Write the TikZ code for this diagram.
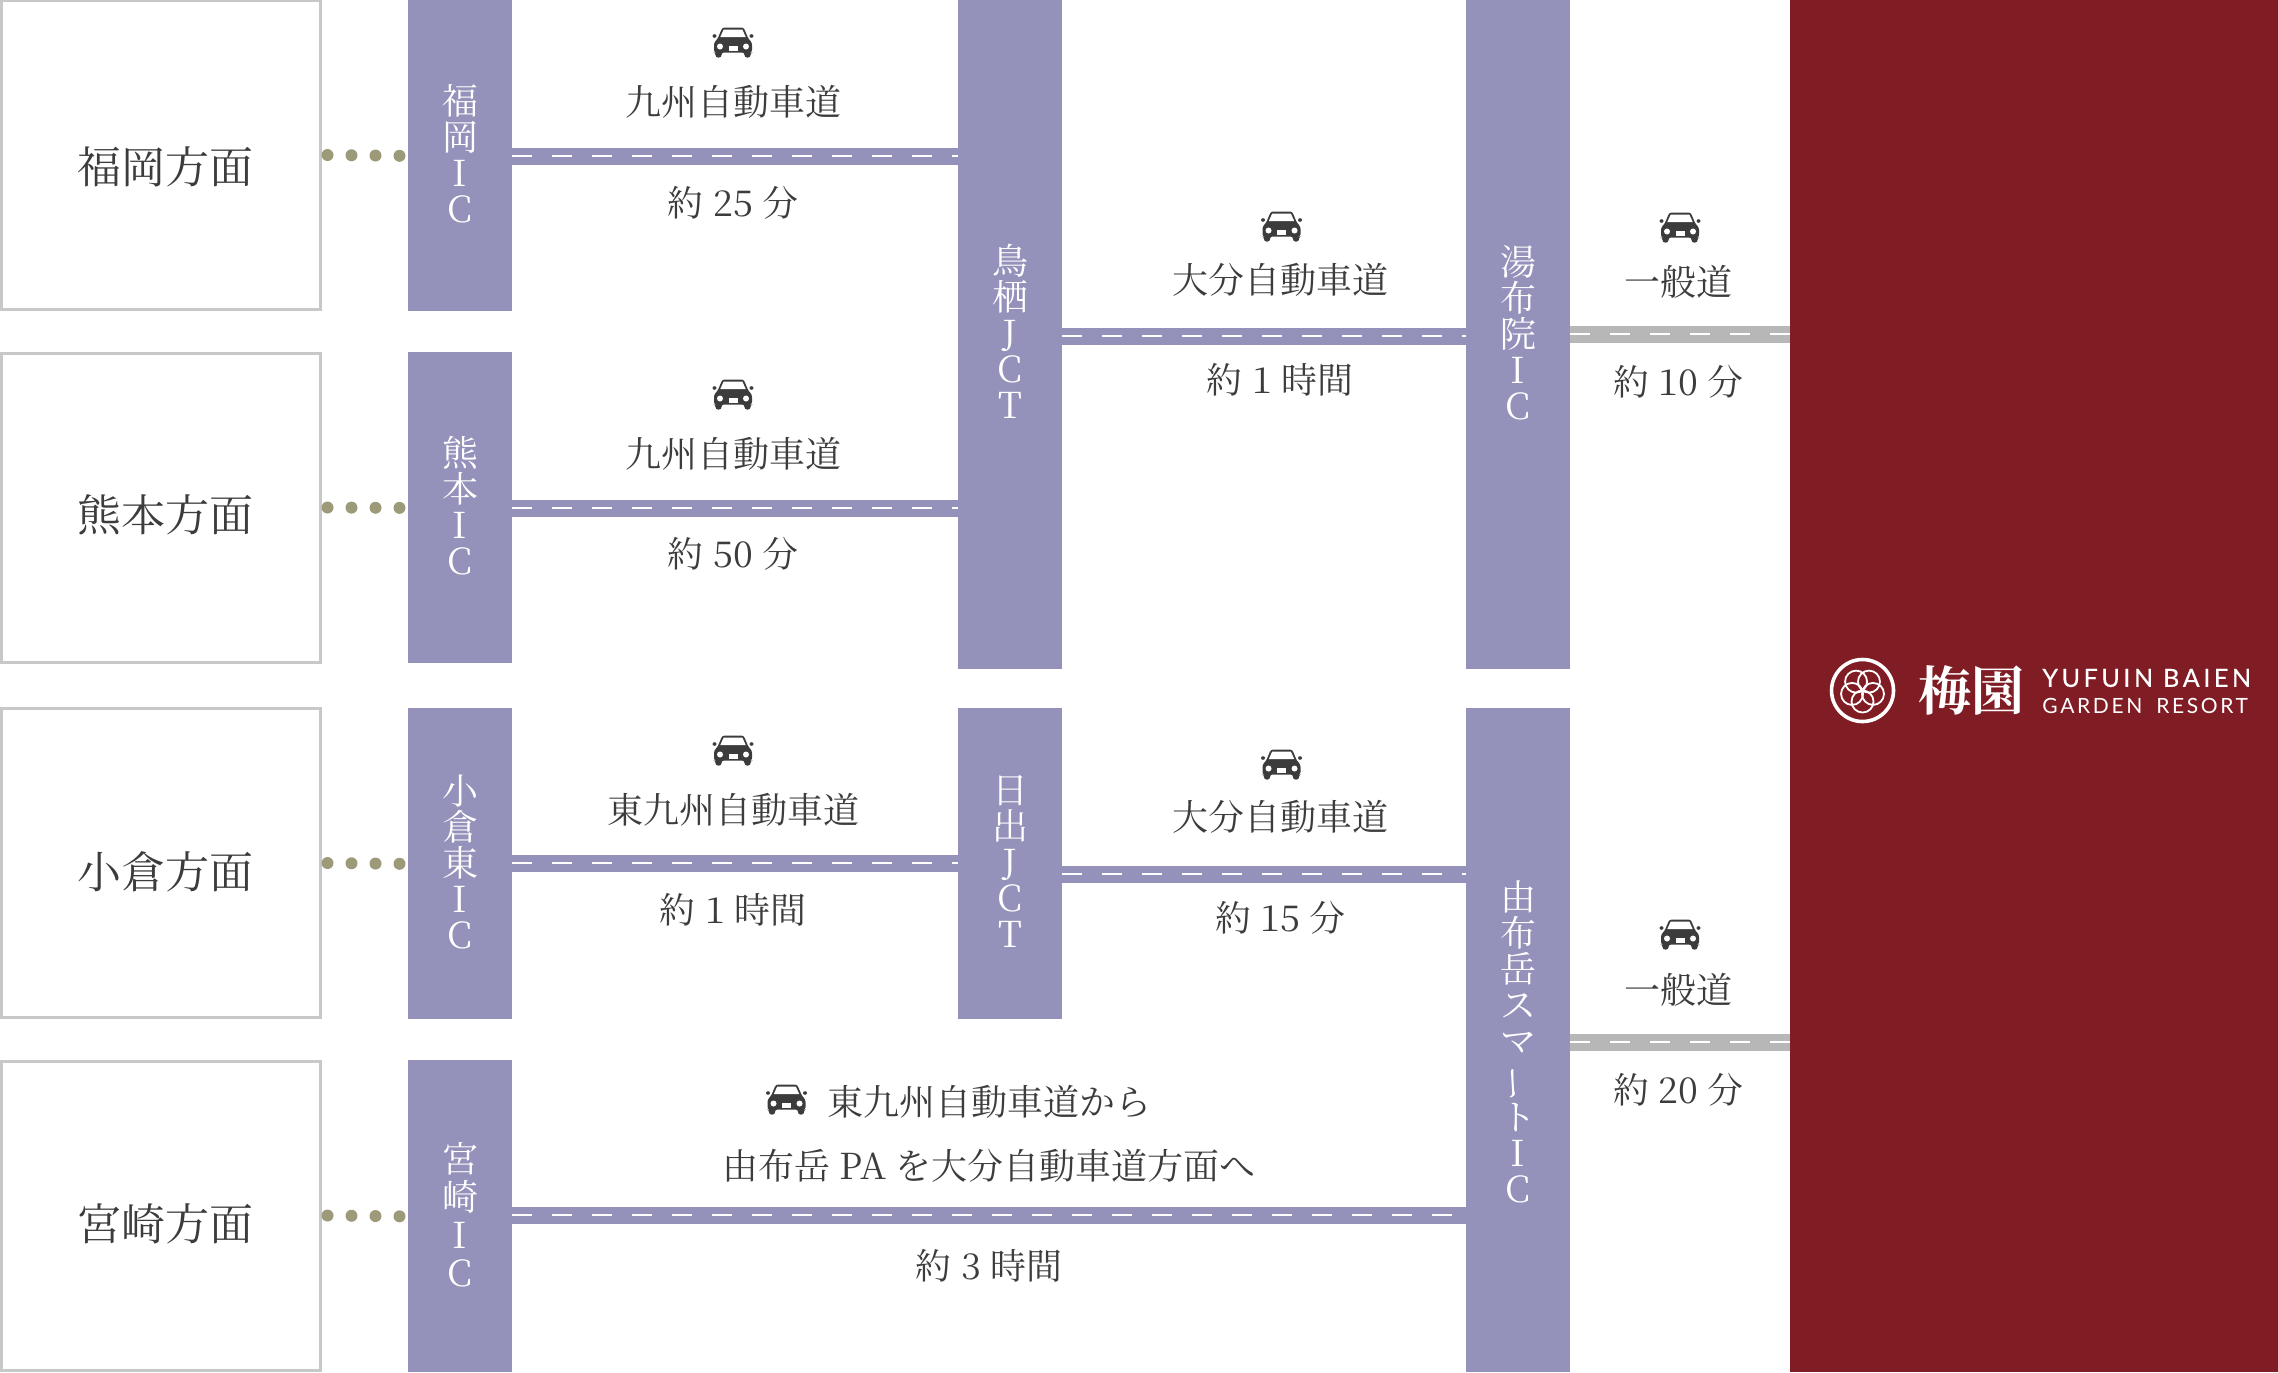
\documentclass[tikz,border=0pt]{standalone}
\usepackage{fontspec}
\setmainfont{Noto Serif CJK JP}
\newfontfamily\logofont{Lato}
\definecolor{lav}{HTML}{9492BA}
\definecolor{wine}{HTML}{7F1C24}
\definecolor{ink}{HTML}{3C3C3C}
\definecolor{olive}{HTML}{9C9A78}
\definecolor{edgegrey}{HTML}{C8C8C8}
\definecolor{roadgrey}{HTML}{B7B7B7}
\newcommand{\vbar}{\rotatebox[origin=c]{90}{ー}}
\tikzset{
  place/.style={draw=edgegrey,line width=1.5pt,fill=white,minimum width=159.5pt,minimum height=154.5pt,inner sep=0pt},
  placetext/.style={text=ink,inner sep=0pt,font=\fontsize{22}{22}\selectfont},
  column/.style={fill=lav,minimum width=52pt,inner sep=0pt,anchor=north west},
  vlabel/.style={text=white,align=center,inner sep=0pt,font=\fontsize{18}{18}\selectfont},
  tx/.style={text=ink,inner sep=0pt,font=\fontsize{18}{18}\selectfont},
  road/.style={draw=#1,line width=8.5pt,postaction={draw=white,line width=1.1pt,dash pattern=on 10pt off 10pt}},
  dots/.style={draw=olive,line width=6pt,line cap=round,dash pattern=on 0pt off 12pt},
  car/.pic={
    \fill[ink] (-18.5,-6.5) ellipse (2 and 1.8) (18.5,-6.5) ellipse (2 and 1.8);
    \fill[ink,rounded corners=1.2pt] (-10.7,-15) -- (10.7,-15) -- (15.5,-3.5) -- (19,0) -- (19,10) -- (17.5,10) -- (17.5,15) -- (11.5,15) -- (11.5,10) -- (-11.5,10) -- (-11.5,15) -- (-17.5,15) -- (-17.5,10) -- (-19,10) -- (-19,0) -- (-15.5,-3.5) -- cycle;
    \fill[white] (-9.3,-13) -- (9.3,-13) -- (12.7,-5.5) -- (-12.7,-5.5) -- cycle;
    \fill[white] (-13,4) circle (3) (13,4) circle (3);
    \fill[white] (-4.5,3.5) rectangle (4.5,8);
  }
}
\begin{document}
\begin{tikzpicture}[x=0.5pt,y=-0.5pt]
\useasboundingbox (0,0) rectangle (2278,1372);
% destination
\node[fill=wine,minimum width=244pt,minimum height=686pt,inner sep=0pt,anchor=north west] (resort) at (1790,0) {};
% places
\node[place] (b1) at (160.5,155) {};
\node[place] (b2) at (160.5,507.5) {};
\node[place] (b3) at (160.5,863) {};
\node[place] (b4) at (160.5,1215.5) {};
\node[placetext] (pt1) at (165,167) {福岡方面};
\node[placetext] (pt2) at (165,516) {熊本方面};
\node[placetext] (pt3) at (165,871.5) {小倉方面};
\node[placetext] (pt4) at (165,1223.5) {宮崎方面};
% columns
\node[column,minimum height=155.5pt] (ic1) at (408,0) {};
\node[column,minimum height=155.5pt] (ic2) at (408,352) {};
\node[column,minimum height=155.5pt] (ic3) at (408,708) {};
\node[column,minimum height=156pt] (ic4) at (408,1060) {};
\node[column,minimum height=334.5pt] (j1) at (957.5,0) {};
\node[column,minimum height=155.5pt] (j2) at (957.5,708) {};
\node[column,minimum height=334.5pt] (s1) at (1466,0) {};
\node[column,minimum height=332pt] (s2) at (1466,708) {};
% dots
\foreach \n in {1,2,3,4}{\draw[dots] ([xshift=3pt]b\n.east) -- (ic\n.west);}
% roads
\coordinate (r1) at (512,156);
\coordinate (r2) at (512,508);
\coordinate (r3) at (512,863);
\coordinate (r4) at (512,1215);
\coordinate (r5) at (1061.5,336);
\coordinate (r6) at (1061.5,874);
\coordinate (r7) at (1570,334);
\coordinate (r8) at (1570,1042);
\draw[road=lav] (r1) -- (j1.west |- r1);
\draw[road=lav] (r2) -- (j1.west |- r2);
\draw[road=lav] (r3) -- (j2.west |- r3);
\draw[road=lav] (r4) -- (s2.west |- r4);
\draw[road=lav] (r5) -- (s1.west |- r5);
\draw[road=lav] (r6) -- (s2.west |- r6);
\draw[road=roadgrey] (r7) -- (resort.west |- r7);
\draw[road=roadgrey] (r8) -- (resort.west |- r8);
% column labels
\node[vlabel] (vic1) at (460,153.5) {福\\岡\\I\\C};
\node[vlabel] (vic2) at (460,505.5) {熊\\本\\I\\C};
\node[vlabel] (vic3) at (460,861.5) {小\\倉\\東\\I\\C};
\node[vlabel] (vic4) at (460,1215) {宮\\[1pt]崎\\[1pt]I\\[1pt]C};
\node[vlabel] (vj1) at (1010,331.5) {鳥\\栖\\J\\C\\T};
\node[vlabel] (vj2) at (1010,861.5) {日\\出\\J\\C\\T};
\node[vlabel] (vs1) at (1518,333) {湯\\布\\院\\I\\C};
\node[vlabel] (vs2) at (1518,1042) {由\\布\\岳\\ス\\マ\\\vbar\\ト\\I\\C};
% cars
\foreach \p in {(733,42.5),(733,394.5),(733,750.5),(1281.5,226.5),(1680,227.5),(1281.5,764.5),(1680,934.5),(786.5,1099.5)}{\pic at \p {car};}
% road labels
\node[tx] (t1) at (733,102) {九州自動車道};
\node[tx] (t2) at (733,202.5) {約 25 分};
\node[tx] (t3) at (733,454) {九州自動車道};
\node[tx] (t4) at (733,554) {約 50 分};
\node[tx] (t5) at (733,810) {東九州自動車道};
\node[tx] (t6) at (733,910) {約 1 時間};
\node[tx] (t7) at (1280,280) {大分自動車道};
\node[tx] (t8) at (1280,380) {約 1 時間};
\node[tx] (t9) at (1280,817) {大分自動車道};
\node[tx] (t10) at (1280,918) {約 15 分};
\node[tx] (t11) at (1678,281.5) {一般道};
\node[tx] (t12) at (1678.5,382) {約 10 分};
\node[tx] (t13) at (1678,990) {一般道};
\node[tx] (t14) at (1678.5,1089.5) {約 20 分};
\node[tx] (t15) at (989,1102) {東九州自動車道から};
\node[tx] (t16) at (989,1166) {由布岳 PA を大分自動車道方面へ};
\node[tx] (t17) at (989,1266) {約 3 時間};
% logo
\draw[white,line width=1.8pt] (1862.5,690.5) circle (31);
\foreach \a in {90,162,234,306,18}{\draw[white,line width=0.9pt] (1862.5,690.5) ++(\a:11) circle (11);}
\node[text=white,inner sep=0pt,font=\fontsize{26.5}{26.5}\bfseries\selectfont] (lg) at (1971,690.5) {梅園};
\node[text=white,inner sep=0pt,anchor=west,font=\logofont\fontsize{12.5}{12.5}\selectfont] (l1) at (2042,678) {\addfontfeature{LetterSpace=14.5,FakeBold=0.4}YUFUIN BAIEN};
\node[text=white,inner sep=0pt,anchor=west,font=\logofont\fontsize{10.5}{10.5}\selectfont] (l2) at (2042,706) {\addfontfeature{LetterSpace=12.5}GARDEN\hspace{3pt} RESORT};
\end{tikzpicture}
\end{document}
